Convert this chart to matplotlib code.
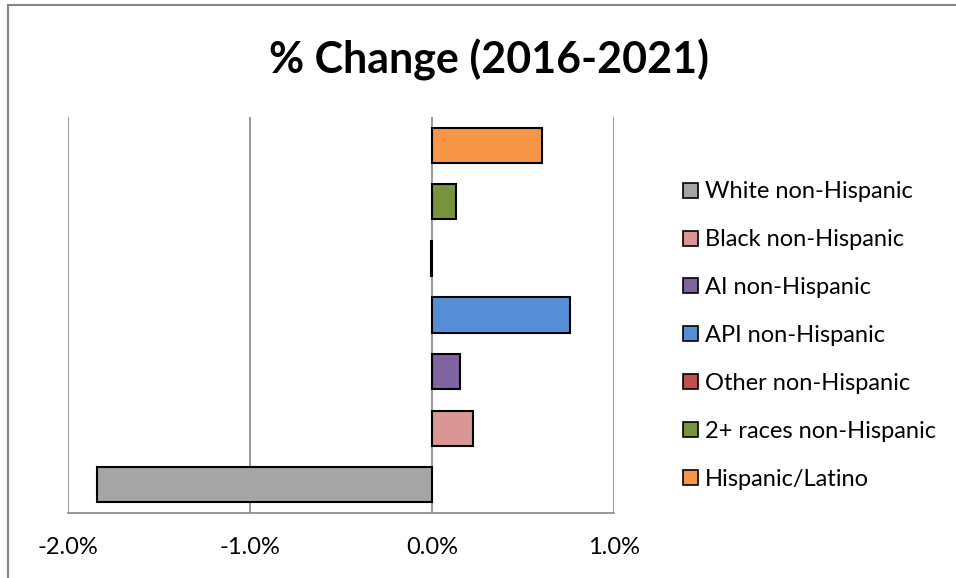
import matplotlib.pyplot as plt
from matplotlib.patches import Rectangle, Patch
from matplotlib.ticker import FuncFormatter

# ---------------------------------------------------------
# data (percent change 2016-2021)
# ---------------------------------------------------------
groups = [
    "White non-Hispanic",
    "Black non-Hispanic",
    "AI non-Hispanic",
    "API non-Hispanic",
    "Other non-Hispanic",
    "2+ races non-Hispanic",
    "Hispanic/Latino",
]
pct_change = [-1.84, 0.225, 0.155, 0.757, -0.005, 0.13, 0.603]
colors = ["#A5A5A5", "#D99694", "#8064A2", "#558ED5", "#C0504D", "#77933C", "#F79646"]
x_ticks = [-2.0, -1.0, 0.0, 1.0]

plt.rcParams["font.family"] = ["Lato", "DejaVu Sans"]

fig = plt.figure(figsize=(9.56, 5.78), dpi=100)
ax = fig.add_axes([68 / 956, 1 - 513 / 578, (614 - 68) / 956, (513 - 117) / 578])

ypos = list(range(len(groups)))
ax.barh(ypos, pct_change, height=0.62, color=colors,
        edgecolor="black", linewidth=1.5, zorder=3)

ax.set_xlim(-2.0, 1.0)
ax.set_ylim(-0.5, len(groups) - 0.5)
ax.set_xticks(x_ticks)
ax.xaxis.set_major_formatter(FuncFormatter(lambda v, p: f"{v:.1f}%"))
ax.set_yticks([])
ax.tick_params(axis="x", length=0, labelsize=17, pad=17)

ax.grid(axis="x", color="#868686", linewidth=1.2, zorder=0)
for side in ["top", "left", "right"]:
    ax.spines[side].set_visible(False)
ax.spines["bottom"].set_color("#868686")
ax.spines["bottom"].set_linewidth(1.2)

fig.text(0.512, 1 - 60 / 578, "% Change (2016-2021)", ha="center", va="center",
         fontsize=31, fontweight="bold")

handles = [Patch(facecolor=c, edgecolor="black", linewidth=1.2) for c in colors]
fig.legend(handles, groups, loc="upper left", bbox_to_anchor=(674 / 956, 1 - 172 / 578),
           frameon=False, fontsize=17, handlelength=0.6, handleheight=0.6,
           handletextpad=0.3, labelspacing=1.14, borderaxespad=0)

# outer chart frame
fig.patches.append(Rectangle((8 / 956, -0.1), 1.0, 1.1 - 5 / 578, transform=fig.transFigure,
                             fill=False, edgecolor="#868686", linewidth=1.5))

fig.savefig("out.png", dpi=100)
